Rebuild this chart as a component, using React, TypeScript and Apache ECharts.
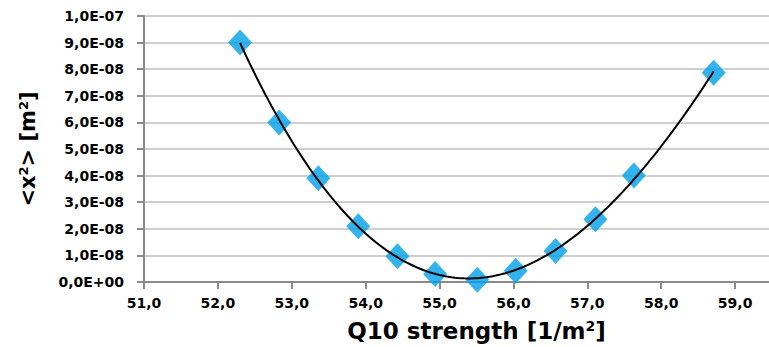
import React, { useEffect, useRef } from "react";
import * as echarts from "echarts";

// Q10 strength [1/m²] and the measured <x²> [m²]
const strength = [52.3, 52.83, 53.36, 53.9, 54.43, 54.94, 55.51, 56.03, 56.57, 57.11, 57.63, 58.71];
const meanSquare = [
  9.0e-8, 6.0e-8, 3.9e-8, 2.1e-8, 0.97e-8, 0.3e-8, 0.08e-8, 0.42e-8, 1.17e-8, 2.36e-8, 4.0e-8, 7.87e-8,
];

// axis ranges
const xRange = { min: 51, max: 60, interval: 1 };
const yRange = { min: 0, max: 1e-7, interval: 1e-8 };

const LABEL_FONT = "'DejaVu Sans', 'Liberation Sans', Arial, sans-serif";
const TITLE_FONT = "'DejaVu Sans', 'Liberation Sans', Arial, sans-serif";

// least-squares polynomial trend line (x centred, y scaled for stability)
function polyFit(xs: number[], ys: number[], degree: number) {
  const xm = xs.reduce((a, b) => a + b, 0) / xs.length;
  const ys8 = ys.map((v) => v * 1e8);
  const n = degree + 1;
  const A: number[][] = Array.from({ length: n }, () => new Array(n + 1).fill(0));
  xs.forEach((x, k) => {
    const t = x - xm;
    for (let i = 0; i < n; i++) {
      for (let j = 0; j < n; j++) A[i][j] += Math.pow(t, i + j);
      A[i][n] += Math.pow(t, i) * ys8[k];
    }
  });
  for (let c = 0; c < n; c++) {
    let p = c;
    for (let r = c + 1; r < n; r++) if (Math.abs(A[r][c]) > Math.abs(A[p][c])) p = r;
    [A[c], A[p]] = [A[p], A[c]];
    for (let r = 0; r < n; r++) {
      if (r === c) continue;
      const f = A[r][c] / A[c][c];
      for (let j = c; j <= n; j++) A[r][j] -= f * A[c][j];
    }
  }
  const coef = A.map((row, i) => row[n] / row[i]);
  return (x: number) => {
    const t = x - xm;
    let s = 0;
    for (let i = n - 1; i >= 0; i--) s = s * t + coef[i];
    return s * 1e-8;
  };
}

function sci(v: number) {
  if (v === 0) return "0,0E+00";
  const [m, e] = v.toExponential(1).split("e");
  const n = parseInt(e, 10);
  return `${m.replace(".", ",")}E${n < 0 ? "-" : "+"}${String(Math.abs(n)).padStart(2, "0")}`;
}

export default function App() {
  const ref = useRef<HTMLDivElement>(null);

  useEffect(() => {
    if (!ref.current) return;
    const chart = echarts.init(ref.current, null, { renderer: "svg" });

    const fit = polyFit(strength, meanSquare, 3);
    const x0 = Math.min(...strength);
    const x1 = Math.max(...strength);
    const steps = 150;
    const trend: number[][] = [];
    for (let i = 0; i <= steps; i++) {
      const x = x0 + ((x1 - x0) * i) / steps;
      trend.push([x, fit(x)]);
    }

    const axisLine = { lineStyle: { color: "#8a8a8a", width: 2 } };
    const labelStyle = { color: "#000", fontFamily: LABEL_FONT, fontWeight: "bold" as const, fontSize: 14 };
    const richX = {
      b: { fontFamily: TITLE_FONT, fontWeight: "bold" as const, fontSize: 23, color: "#000" },
      s: { fontFamily: TITLE_FONT, fontWeight: "bold" as const, fontSize: 14, color: "#000", verticalAlign: "top" as const },
    };
    const richY = {
      b: { fontFamily: TITLE_FONT, fontWeight: "bold" as const, fontSize: 21, color: "#000" },
      s: { fontFamily: TITLE_FONT, fontWeight: "bold" as const, fontSize: 13, color: "#000", verticalAlign: "top" as const },
    };

    chart.setOption({
      animation: false,
      grid: { left: 144, top: 16, bottom: 64, right: 21, containLabel: false },
      xAxis: {
        type: "value",
        min: xRange.min,
        max: xRange.max,
        interval: xRange.interval,
        axisLine: { ...axisLine, onZero: false },
        axisTick: { show: true, length: 7, lineStyle: { color: "#8a8a8a", width: 2 } },
        splitLine: { show: false },
        axisLabel: {
          ...labelStyle,
          margin: 14,
          showMaxLabel: false,
          formatter: (v: number) => v.toFixed(1).replace(".", ","),
        },
        name: "{b|Q10 strength [1/m}{s|2}{b|]}",
        nameLocation: "middle",
        nameGap: 37,
        nameTextStyle: { rich: richX },
      },
      yAxis: {
        type: "value",
        min: yRange.min,
        max: yRange.max,
        interval: yRange.interval,
        axisLine: { ...axisLine, show: true },
        axisTick: { show: true, length: 7, lineStyle: { color: "#8a8a8a", width: 2 } },
        splitLine: { show: true, lineStyle: { color: "#cfcfcf", width: 2 } },
        axisLabel: { ...labelStyle, margin: 20, formatter: sci },
        name: "{b|<x}{s|2}{b|> [m}{s|2}{b|]}",
        nameLocation: "middle",
        nameRotate: 90,
        nameGap: 106,
        nameTextStyle: { rich: richY },
      },
      series: [
        {
          type: "scatter",
          data: strength.map((x, i) => [x, meanSquare[i]]),
          symbol: "diamond",
          symbolSize: [24, 26],
          itemStyle: { color: "#00A0E8" },
          z: 2,
        },
        {
          type: "line",
          data: trend,
          showSymbol: false,
          smooth: false,
          lineStyle: { color: "#000", width: 2 },
          z: 3,
        },
      ],
    });

    return () => chart.dispose();
  }, []);

  return (
    <div
      style={{
        position: "fixed",
        left: 0,
        top: 0,
        width: 769,
        height: 347,
        overflow: "hidden",
        background: "#fff",
      }}
    >
      <div ref={ref} style={{ width: 830, height: 347 }} />
    </div>
  );
}
